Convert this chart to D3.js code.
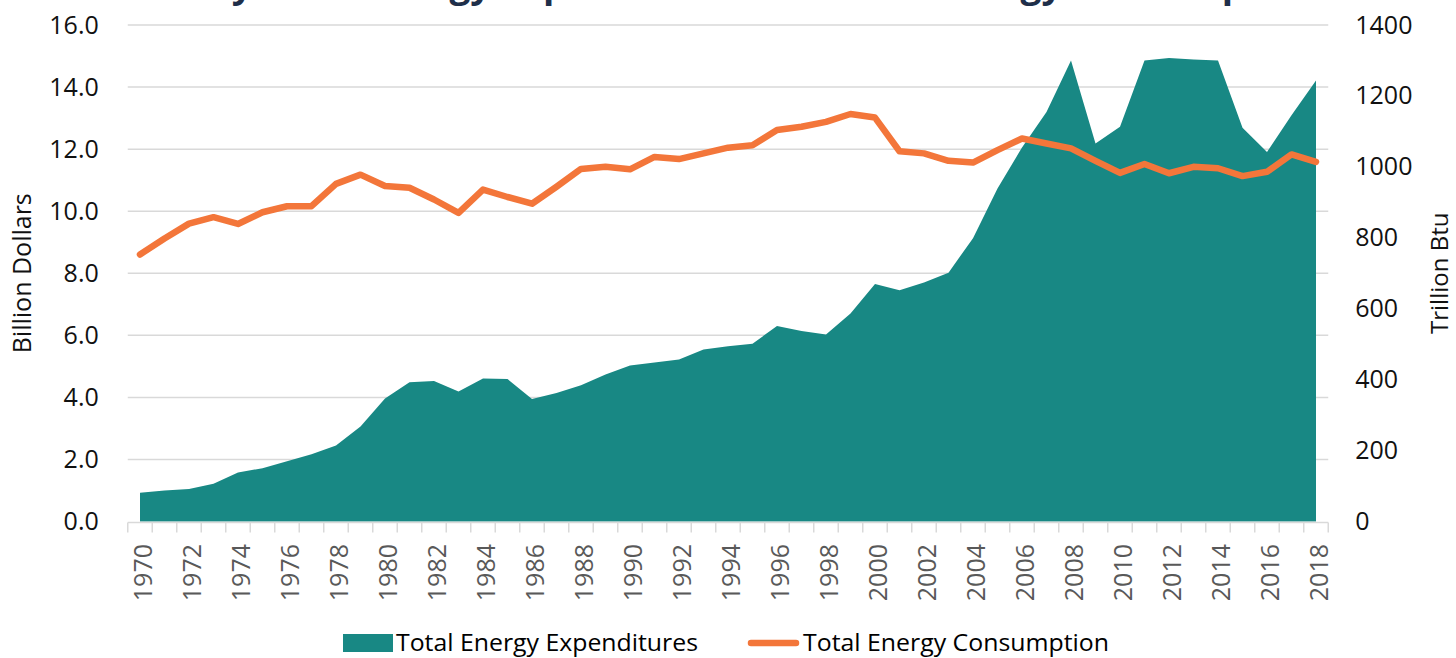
<!DOCTYPE html>
<html>
<head>
<meta charset="utf-8">
<script src="https://cdn.jsdelivr.net/npm/d3@7"></script>
<style>
  html, body { margin: 0; padding: 0; background: #ffffff; }
  svg { display: block; }
  text { font-family: "Open Sans", "DejaVu Sans", sans-serif; }
</style>
</head>
<body>
<svg id="chart" width="1456" height="658"></svg>
<script>
// Years on the category axis
const years = d3.range(1970, 2019);

// Total energy expenditures, billion dollars (left axis)
const expenditures = [
  0.93, 1.00, 1.05, 1.22, 1.58, 1.72, 1.94, 2.17, 2.45, 3.06,
  3.96, 4.49, 4.53, 4.19, 4.61, 4.59, 3.95, 4.14, 4.39, 4.74,
  5.03, 5.12, 5.22, 5.54, 5.65, 5.73, 6.30, 6.14, 6.03, 6.70,
  7.65, 7.45, 7.70, 8.02, 9.13, 10.73, 12.05, 13.20, 14.86, 12.18,
  12.72, 14.86, 14.94, 14.89, 14.86, 12.69, 11.91, 13.09, 14.21
];

// Total energy consumption, trillion Btu (right axis)
const consumption = [
  753, 798, 840, 858, 839, 872, 889, 889, 952, 978,
  946, 941, 908, 870, 936, 915, 896, 944, 994, 1000,
  993, 1028, 1022, 1038, 1054, 1061, 1104, 1113, 1127, 1149,
  1139, 1044, 1038, 1017, 1012, 1047, 1080, 1066, 1052, 1017,
  983, 1008, 982, 1000, 996, 974, 986, 1035, 1014
];

// Axis tick values
const leftTicks = [0, 2, 4, 6, 8, 10, 12, 14, 16];
const rightTicks = [0, 200, 400, 600, 800, 1000, 1200, 1400];
const yearLabels = years.filter(y => y % 2 === 0);

const titleText = "Yearly Total Energy Expenditures and Total Energy Consumption";
const seriesNames = ["Total Energy Expenditures", "Total Energy Consumption"];

const teal = "#188884";
const orange = "#F3763A";
const gridColor = "#d9d9d9";

const svg = d3.select("#chart");

const plot = { left: 127.75, right: 1328.25, top: 25, bottom: 521.5 };

const x = d3.scaleBand().domain(years).range([plot.left, plot.right]).paddingInner(0).paddingOuter(0);
const cx = yr => x(yr) + x.bandwidth() / 2;
const yL = d3.scaleLinear().domain([0, 16]).range([plot.bottom, plot.top]);
const yR = d3.scaleLinear().domain([0, 1400]).range([plot.bottom, plot.top]);

// Title (sits mostly above the top edge)
svg.append("text")
  .attr("x", 728).attr("y", -3)
  .attr("text-anchor", "middle")
  .attr("font-weight", 700)
  .attr("font-size", 36)
  .attr("fill", "#1F2F4A")
  .attr("textLength", 1183)
  .attr("lengthAdjust", "spacingAndGlyphs")
  .text(titleText);

// Horizontal gridlines
svg.append("g")
  .selectAll("line")
  .data(leftTicks.filter(d => d > 0))
  .join("line")
  .attr("x1", plot.left).attr("x2", plot.right)
  .attr("y1", d => yL(d)).attr("y2", d => yL(d))
  .attr("stroke", gridColor).attr("stroke-width", 1.5);

// Expenditures area
const area = d3.area()
  .x((d, i) => cx(years[i]))
  .y0(yL(0))
  .y1(d => yL(d));
svg.append("path")
  .datum(expenditures)
  .attr("d", area)
  .attr("fill", teal);

// Category axis line with boundary tick marks
const xAxis = svg.append("g");
xAxis.append("line")
  .attr("x1", plot.left).attr("x2", plot.right)
  .attr("y1", yL(0) + 1).attr("y2", yL(0) + 1)
  .attr("stroke", gridColor).attr("stroke-width", 1.5);
xAxis.selectAll("line.tick")
  .data(years.map(yr => x(yr)).concat([plot.right]))
  .join("line")
  .attr("class", "tick")
  .attr("x1", d => d).attr("x2", d => d)
  .attr("y1", yL(0) + 1).attr("y2", yL(0) + 11)
  .attr("stroke", gridColor).attr("stroke-width", 1.5);
xAxis.selectAll("text")
  .data(yearLabels)
  .join("text")
  .attr("transform", d => `translate(${cx(d) + 2},544) rotate(-90)`)
  .attr("text-anchor", "end")
  .attr("dominant-baseline", "central")
  .attr("font-size", 25)
  .attr("fill", "#595959")
  .text(d => d);

// Consumption line
const line = d3.line()
  .x((d, i) => cx(years[i]))
  .y(d => yR(d));
svg.append("path")
  .datum(consumption)
  .attr("d", line)
  .attr("fill", "none")
  .attr("stroke", orange)
  .attr("stroke-width", 6.5)
  .attr("stroke-linejoin", "round")
  .attr("stroke-linecap", "round");

// Left value axis
const gL = svg.append("g")
  .attr("transform", `translate(${plot.left},0)`)
  .call(d3.axisLeft(yL).tickValues(leftTicks).tickFormat(d3.format(".1f")).tickSize(0).tickPadding(29));
gL.select(".domain").remove();
gL.selectAll("text").attr("font-size", 25).attr("fill", "#111").attr("font-family", "Open Sans, sans-serif");

// Right value axis
const gR = svg.append("g")
  .attr("transform", `translate(${plot.right},0)`)
  .call(d3.axisRight(yR).tickValues(rightTicks).tickFormat(d3.format("d")).tickSize(0).tickPadding(27));
gR.select(".domain").remove();
gR.selectAll("text").attr("font-size", 25).attr("fill", "#111").attr("font-family", "Open Sans, sans-serif");

// Axis titles
svg.append("text")
  .attr("transform", `translate(31,${(plot.top + plot.bottom) / 2}) rotate(-90)`)
  .attr("text-anchor", "middle")
  .attr("font-size", 25)
  .attr("fill", "#111")
  .text("Billion Dollars");
svg.append("text")
  .attr("transform", `translate(1448,${(plot.top + plot.bottom) / 2}) rotate(-90)`)
  .attr("text-anchor", "middle")
  .attr("font-size", 24)
  .attr("fill", "#111")
  .text("Trillion Btu");

// Legend
const legend = svg.append("g");
legend.append("rect")
  .attr("x", 343).attr("y", 634).attr("width", 50).attr("height", 18)
  .attr("fill", teal);
legend.append("text")
  .attr("x", 396).attr("y", 651)
  .attr("font-size", 24).attr("fill", "#000")
  .attr("textLength", 302).attr("lengthAdjust", "spacingAndGlyphs")
  .text(seriesNames[0]);
legend.append("line")
  .attr("x1", 751).attr("x2", 796).attr("y1", 643).attr("y2", 643)
  .attr("stroke", orange).attr("stroke-width", 6.5).attr("stroke-linecap", "round");
legend.append("text")
  .attr("x", 803).attr("y", 651)
  .attr("font-size", 24).attr("fill", "#000")
  .attr("textLength", 306).attr("lengthAdjust", "spacingAndGlyphs")
  .text(seriesNames[1]);
</script>
</body>
</html>
